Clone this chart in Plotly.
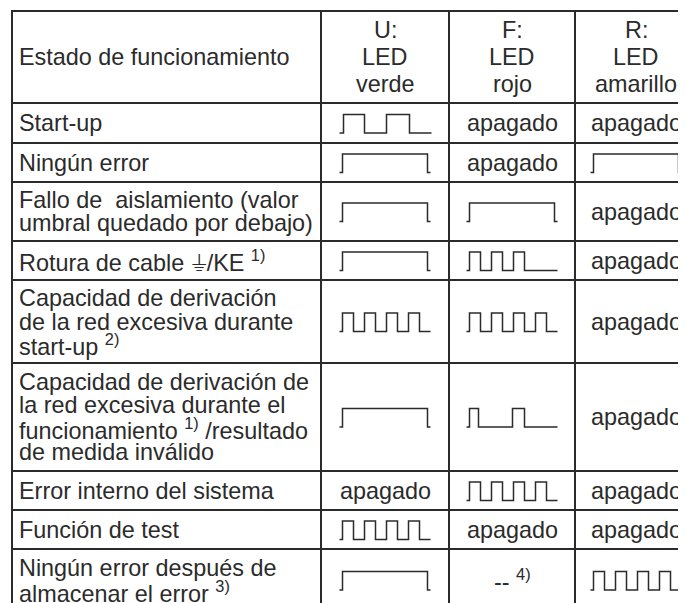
import plotly.graph_objects as go

# ---------------- data ----------------
header_state = "Estado de funcionamiento"
header_leds = [["U:", "LED", "verde"], ["F:", "LED", "rojo"], ["R:", "LED", "amarillo"]]

states = [
    ["Start-up"],
    ["Ningún error"],
    ["Fallo de\u00a0 aislamiento (valor", "umbral quedado por debajo)"],
    ["Rotura de cable \u23da/KE <sup>1)</sup>"],
    ["Capacidad de derivación", "de la red excesiva durante", "start-up <sup>2)</sup>"],
    ["Capacidad de derivación de", "la red excesiva durante el",
     "funcionamiento <sup>1)</sup> /resultado", "de medida inválido"],
    ["Error interno del sistema"],
    ["Función de test"],
    ["Ningún error después de", "almacenar el error <sup>3)</sup>"],
]

led_U = ["startup", "on", "on", "on", "fast", "on", "apagado", "fast", "on"]
led_F = ["apagado", "apagado", "on", "burst3", "fast", "double", "fast", "apagado", "-- <sup>4)</sup>"]
led_R = ["apagado", "on", "apagado", "apagado", "apagado", "apagado", "apagado", "apagado", "fast"]

# signal patterns: levels (0 = off, 1 = on) and their durations
pattern_levels = {
    "startup": [0, 1, 0, 1, 0],
    "on": [0, 1, 0],
    "burst3": [0, 1, 0, 1, 0, 1, 0],
    "fast": [0, 1, 0, 1, 0, 1, 0, 1, 0],
    "double": [0, 1, 0, 1, 0],
}
pattern_durations = {
    "startup": [4, 21, 22, 23, 22],
    "on": [3, 85, 3],
    "burst3": [3, 11, 11, 11, 11, 11, 33],
    "fast": [3, 11, 11, 11, 11, 11, 11, 11, 11],
    "double": [3, 9, 34, 12, 33],
}

# ---------------- layout constants ----------------
W, H = 686, 603
PAGE_MARGIN = 8          # default body margin of the html page
col_edges = [12, 321, 449, 575, 685]
row_edges = [11, 103, 143, 182, 241, 280, 363, 471, 510, 549, 612]
content_centers = [385, 512, 636]
last_row_center = 580
label_x = 18
FONT = "Liberation Sans, Arial, Helvetica, sans-serif"
FS = 23.4
LH = 23.3
LH_HEAD = 26.7
INK = "#2b2b2b"
WAVE_W = 91
WAVE_UP, WAVE_DN = -8.5, 10

fig = go.Figure()
annotations = []
shapes = []

def add_text(x, y, text, anchor="left", size=FS):
    annotations.append(dict(x=x, y=y, xref="x", yref="y", text=text, showarrow=False,
                            xanchor=anchor, yanchor="middle", borderpad=0,
                            font=dict(family=FONT, size=size, color=INK)))

def add_lines(x, center, lines, lh, anchor):
    n = len(lines)
    for i, t in enumerate(lines):
        add_text(x, center + (i - (n - 1) / 2) * lh, t, anchor)

# grid
for y in row_edges[:-1]:
    shapes.append(dict(type="line", xref="x", yref="y", x0=col_edges[0] - 1, x1=col_edges[-1] + 1,
                       y0=y, y1=y, line=dict(color=INK, width=2)))
for x in col_edges:
    shapes.append(dict(type="line", xref="x", yref="y", x0=x, x1=x,
                       y0=row_edges[0], y1=row_edges[-1], line=dict(color=INK, width=2)))

# header
hc = (row_edges[0] + row_edges[1]) / 2
add_lines(label_x, hc, [header_state], LH, "left")
for j, lines in enumerate(header_leds):
    add_lines(content_centers[j], hc, lines, LH_HEAD, "center")

# body
for i, lines in enumerate(states):
    top, bot = row_edges[i + 1], row_edges[i + 2]
    c = (top + bot) / 2 if i < len(states) - 1 else last_row_center
    add_lines(label_x, c, lines, LH, "left")
    for j, col in enumerate([led_U, led_F, led_R]):
        val = col[i]
        cx = content_centers[j]
        if val in pattern_levels:
            lv = pattern_levels[val]
            du = pattern_durations[val]
            x0 = cx - WAVE_W / 2
            xs, ys = [], []
            t = x0
            for l, d in zip(lv, du):
                xs.append(t)
                ys.append(c + (WAVE_UP if l else WAVE_DN))
                t += d
            xs.append(t)
            ys.append(ys[-1])
            fig.add_trace(go.Scatter(x=xs, y=ys, mode="lines", line_shape="hv",
                                     line=dict(color=INK, width=1.5),
                                     hoverinfo="skip", showlegend=False))
        else:
            add_text(cx, c, val, "center")

fig.update_layout(
    width=W - PAGE_MARGIN, height=H - PAGE_MARGIN,
    margin=dict(l=0, r=0, t=0, b=0),
    paper_bgcolor="white", plot_bgcolor="white",
    xaxis=dict(range=[PAGE_MARGIN, W], visible=False, fixedrange=True),
    yaxis=dict(range=[H, PAGE_MARGIN], visible=False, fixedrange=True),
    annotations=annotations, shapes=shapes, showlegend=False,
)

fig.write_html("out.html")
